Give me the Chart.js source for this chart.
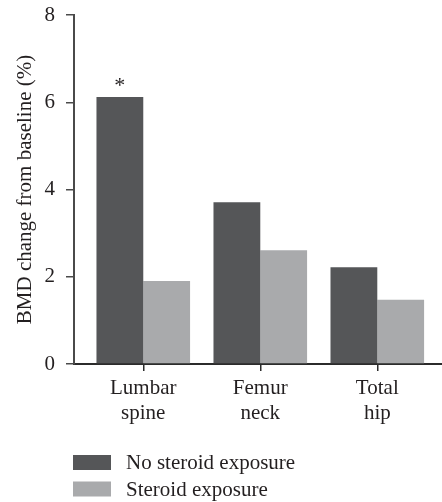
<!DOCTYPE html>
<html>
<head>
<meta charset="utf-8">
<script src="https://cdn.jsdelivr.net/npm/chart.js@4.4.1/dist/chart.umd.min.js"></script>
<style>
html,body{margin:0;padding:0;background:#fff;}
#wrap{width:442px;height:502px;position:relative;}
</style>
</head>
<body>
<div id="wrap"><canvas id="c" width="442" height="502"></canvas></div>
<script>
const categories = ["Lumbar spine", "Femur neck", "Total hip"];
const noSteroid = [6.12, 3.71, 2.22];
const steroid = [1.90, 2.61, 1.47];
const seriesNames = ["No steroid exposure", "Steroid exposure"];
const marks = ["*", "", ""];
const yTicks = [0, 2, 4, 6, 8];
const yTitle = "BMD change from baseline (%)";

const FONT = "'Liberation Serif', 'Times New Roman', serif";
const TXT = '#231f20';

const toPts = arr => arr.map((v, i) => ({x: i, y: v}));

const legendPlugin = {
  id: 'stackLegend',
  afterDraw(chart) {
    const ctx = chart.ctx;
    ctx.save();
    ctx.font = '21px ' + FONT;
    ctx.textBaseline = 'middle';
    ctx.textAlign = 'left';
    const rows = [462.5, 489];
    chart.data.datasets.forEach((ds, i) => {
      const y = rows[i];
      ctx.fillStyle = ds.backgroundColor;
      ctx.fillRect(73, y - 7.5, 38, 15);
      ctx.fillStyle = TXT;
      ctx.fillText(ds.label, 126, y + 1);
    });
    ctx.restore();
  }
};

const markPlugin = {
  id: 'marks',
  afterDatasetsDraw(chart) {
    const ctx = chart.ctx;
    const meta = chart.getDatasetMeta(0);
    ctx.save();
    ctx.font = '22px ' + FONT;
    ctx.textAlign = 'center';
    ctx.textBaseline = 'alphabetic';
    ctx.fillStyle = TXT;
    meta.data.forEach((bar, i) => {
      if (marks[i]) ctx.fillText(marks[i], bar.x, bar.y - 5);
    });
    ctx.restore();
  }
};

new Chart(document.getElementById('c'), {
  type: 'bar',
  data: {
    datasets: [
      {label: seriesNames[0], data: toPts(noSteroid), backgroundColor: '#555658'},
      {label: seriesNames[1], data: toPts(steroid), backgroundColor: '#a9aaac'}
    ]
  },
  options: {
    responsive: false,
    animation: false,
    devicePixelRatio: 1,
    categoryPercentage: 0.8,
    barPercentage: 1.0,
    layout: {padding: {top: 15, right: 0, left: 0, bottom: 68}},
    plugins: {legend: {display: false}, tooltip: {enabled: false}},
    scales: {
      x: {
        type: 'linear',
        min: -0.592,
        max: 2.553,
        offset: false,
        afterBuildTicks(scale) { scale.ticks = categories.map((c, i) => ({value: i})); },
        afterFit(scale) { scale.height = 70; scale.paddingLeft = 0; scale.paddingRight = 0; scale.paddingTop = 0; scale.paddingBottom = 0; },
        grid: {display: true, offset: false, drawOnChartArea: false, drawTicks: true, tickLength: 7, color: '#2b2b2b', lineWidth: 1.5},
        border: {display: true, color: '#2b2b2b', width: 2},
        ticks: {
          padding: 5,
          color: TXT,
          font: {family: FONT, size: 21, lineHeight: 1.2},
          maxRotation: 0,
          autoSkip: false,
          callback: (v) => categories[v] ? categories[v].split(' ') : ''
        }
      },
      y: {
        min: 0,
        max: 8,
        afterBuildTicks(scale) { scale.ticks = yTicks.map(v => ({value: v})); },
        afterFit(scale) { scale.width = 74; scale.paddingTop = 0; scale.paddingBottom = 0; scale.paddingLeft = 0; scale.paddingRight = 0; },
        grid: {display: true, drawOnChartArea: false, drawTicks: true, tickLength: 8, color: '#4a4a4a', lineWidth: 1.5},
        border: {display: true, color: '#4a4a4a', width: 2},
        ticks: {padding: 11, color: TXT, font: {family: FONT, size: 21}},
        title: {display: true, text: yTitle, color: TXT, font: {family: FONT, size: 21, lineHeight: 1.2}, padding: {top: 13, bottom: 0}}
      }
    }
  },
  plugins: [markPlugin, legendPlugin]
});
</script>
</body>
</html>
